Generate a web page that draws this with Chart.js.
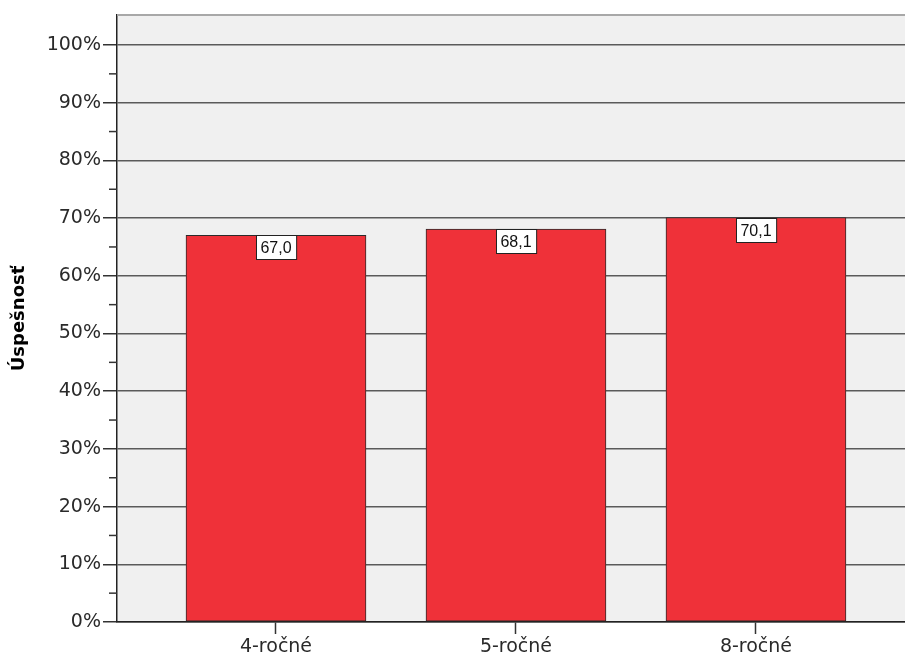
<!DOCTYPE html>
<html>
<head>
<meta charset="utf-8">
<script src="https://cdn.jsdelivr.net/npm/chart.js@4"></script>
<style>
  html, body { margin: 0; padding: 0; background: #fff; overflow: hidden; }
  #wrap { width: 905px; height: 658px; }
</style>
</head>
<body>
<div id="wrap"><canvas id="successChart" width="905" height="658"></canvas></div>
<script>
// chart data
const categories = ['4-ročné', '5-ročné', '8-ročné'];
const successRates = [67.0, 68.1, 70.1];
const yTickValues = [0, 10, 20, 30, 40, 50, 60, 70, 80, 90, 100];
const yMinorTicks = [5, 15, 25, 35, 45, 55, 65, 75, 85, 95];
const yAxisTitle = 'Úspešnosť';

// grey plot background + light top border
const plotBackground = {
    id: 'plotBackground',
    beforeDraw(chart) {
        const { ctx, chartArea } = chart;
        ctx.save();
        ctx.fillStyle = '#f0f0f0';
        ctx.fillRect(chartArea.left, chartArea.top, chartArea.right - chartArea.left, chartArea.bottom - chartArea.top);
        ctx.restore();
    },
    afterDraw(chart) {
        const { ctx, chartArea } = chart;
        ctx.save();
        ctx.strokeStyle = '#a8a8a8';
        ctx.lineWidth = 2;
        ctx.beginPath();
        ctx.moveTo(chartArea.left, chartArea.top);
        ctx.lineTo(chartArea.right, chartArea.top);
        ctx.stroke();

        // minor tick marks on the y axis
        const y = chart.scales.y;
        ctx.strokeStyle = '#333';
        ctx.lineWidth = 1.5;
        yMinorTicks.forEach(v => {
            const py = y.getPixelForValue(v);
            ctx.beginPath();
            ctx.moveTo(chartArea.left - 8, py);
            ctx.lineTo(chartArea.left, py);
            ctx.stroke();
        });
        ctx.restore();
    }
};

// value boxes at the top of each bar
const valueBoxes = {
    id: 'valueBoxes',
    afterDatasetsDraw(chart) {
        const { ctx } = chart;
        const meta = chart.getDatasetMeta(0);
        ctx.save();
        ctx.font = '16px "Liberation Sans", Arial, sans-serif';
        ctx.textAlign = 'center';
        ctx.textBaseline = 'middle';
        meta.data.forEach((bar, i) => {
            const text = successRates[i].toFixed(1).replace('.', ',');
            const w = ctx.measureText(text).width + 9;
            const h = 24;
            const x = Math.round(bar.x - w / 2) + 0.5;
            const top = Math.round(bar.y) + 0.5;
            ctx.fillStyle = '#ffffff';
            ctx.fillRect(x, top, w, h);
            ctx.strokeStyle = '#222';
            ctx.lineWidth = 1;
            ctx.strokeRect(x, top, w, h);
            ctx.fillStyle = '#111';
            ctx.fillText(text, bar.x, top + h / 2 + 1);
        });
        ctx.restore();
    }
};

const ctx = document.getElementById('successChart').getContext('2d');
new Chart(ctx, {
    type: 'bar',
    data: {
        datasets: [{
            label: yAxisTitle,
            data: successRates.map((v, i) => ({ x: i + 1, y: v })),
            backgroundColor: '#ef3139',
            borderColor: '#2b2b2b',
            borderWidth: 1,
            borderSkipped: false,
            barThickness: 180
        }]
    },
    options: {
        responsive: false,
        animation: false,
        layout: { padding: { top: 15, left: 0, right: 0, bottom: 0 } },
        plugins: {
            legend: { display: false },
            tooltip: { enabled: false }
        },
        scales: {
            x: {
                type: 'linear',
                offset: false,
                min: 0.3375,
                max: 3.621,
                afterBuildTicks: scale => {
                    scale.ticks = categories.map((c, i) => ({ value: i + 1 }));
                },
                afterFit: scale => { scale.height = 36; },
                grid: {
                    offset: false,
                    drawOnChartArea: false,
                    drawTicks: true,
                    tickLength: 12,
                    tickColor: '#333',
                    tickWidth: 1.5
                },
                border: { display: true, color: '#222', width: 1.5 },
                ticks: {
                    padding: 2,
                    color: '#2a2a2a',
                    font: { family: '"DejaVu Sans", sans-serif', size: 19 },
                    callback: value => categories[value - 1] || ''
                }
            },
            y: {
                min: 0,
                max: 105.2,
                afterBuildTicks: scale => {
                    scale.ticks = yTickValues.map(v => ({ value: v }));
                },
                afterFit: scale => { scale.width = 117; },
                grid: {
                    color: '#5a5a5a',
                    lineWidth: 1.5,
                    tickLength: 14,
                    tickColor: '#333'
                },
                border: { display: true, color: '#222', width: 1.5 },
                ticks: {
                    padding: 2,
                    color: '#2a2a2a',
                    font: { family: '"DejaVu Sans", sans-serif', size: 19 },
                    callback: value => value + '%'
                },
                title: {
                    display: true,
                    text: yAxisTitle,
                    color: '#000',
                    padding: { top: 9, bottom: 0 },
                    font: { family: '"DejaVu Sans", sans-serif', size: 18, weight: 'bold' }
                }
            }
        }
    },
    plugins: [plotBackground, valueBoxes]
});
</script>
</body>
</html>
